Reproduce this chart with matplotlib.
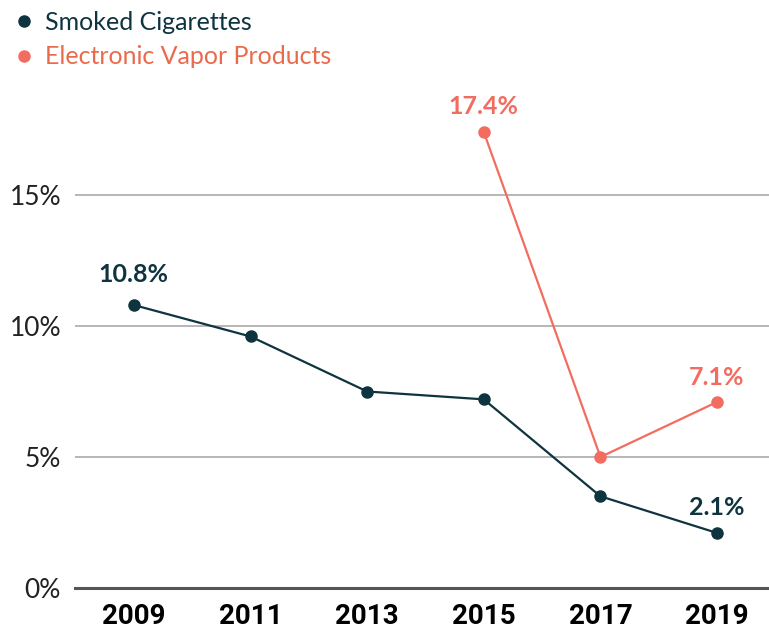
import numpy as np
import matplotlib.pyplot as plt
from matplotlib.lines import Line2D

years = [2009, 2011, 2013, 2015, 2017, 2019]
smoked = [10.8, 9.6, 7.5, 7.2, 3.5, 2.1]
vapor_years = [2015, 2017, 2019]
vapor = [17.4, 5.0, 7.1]

dark = "#0e3440"
coral = "#f26d5f"
coral_text = "#ea6a4c"

plt.rcParams['font.family'] = ['Lato', 'DejaVu Sans']

fig = plt.figure(figsize=(7.69, 6.31), dpi=100)
ax = fig.add_axes([75/769, 43/631, 1 - 75/769, 508/631])

ax.plot(years, smoked, color=dark, lw=1.6, marker='o', ms=8, zorder=3)
ax.plot(vapor_years, vapor, color=coral, lw=1.6, marker='o', ms=8, zorder=3)

# value labels on first/last points
ax.annotate("10.8%", (2009, 10.8), xytext=(0, 14), textcoords='offset points',
            ha='center', va='bottom', fontsize=18, fontweight='bold', color=dark)
ax.annotate("2.1%", (2019, 2.1), xytext=(0, 10), textcoords='offset points',
            ha='center', va='bottom', fontsize=18, fontweight='bold', color=dark)
ax.annotate("17.4%", (2015, 17.4), xytext=(0, 10), textcoords='offset points',
            ha='center', va='bottom', fontsize=18, fontweight='bold', color=coral)
ax.annotate("7.1%", (2019, 7.1), xytext=(0, 9), textcoords='offset points',
            ha='center', va='bottom', fontsize=18, fontweight='bold', color=coral)

ax.set_xlim(2007.99, 2019.89)
ax.set_ylim(0, 19.39)
ax.set_xticks(years)
ax.set_xticklabels([str(y) for y in years], fontsize=20, fontweight='bold',
                   family=['Liberation Sans Narrow', 'Roboto', 'DejaVu Sans'])
ax.set_yticks([0, 5, 10, 15])
ax.set_yticklabels(["0%", "5%", "10%", "15%"], fontsize=19, color='#222222')
ax.tick_params(axis='both', length=0)
ax.tick_params(axis='y', pad=10)
ax.tick_params(axis='x', pad=11)

for v in [5, 10, 15]:
    ax.axhline(v, color='#aaaaaa', lw=1.2, zorder=1)
ax.axhline(0, color='#555555', lw=2.2, zorder=1, clip_on=False)

for s in ax.spines.values():
    s.set_visible(False)

handles = [Line2D([], [], ls='none', marker='o', ms=8, color=dark),
           Line2D([], [], ls='none', marker='o', ms=8, color=coral)]
leg = fig.legend(handles, ["Smoked Cigarettes", "Electronic Vapor Products"],
                 loc='upper left', bbox_to_anchor=(-0.014, 1.018), frameon=False,
                 fontsize=18, handletextpad=0.35, labelspacing=0.45, handlelength=1.0)
leg.get_texts()[0].set_color(dark)
leg.get_texts()[1].set_color(coral_text)

fig.savefig("out.png", dpi=100)
